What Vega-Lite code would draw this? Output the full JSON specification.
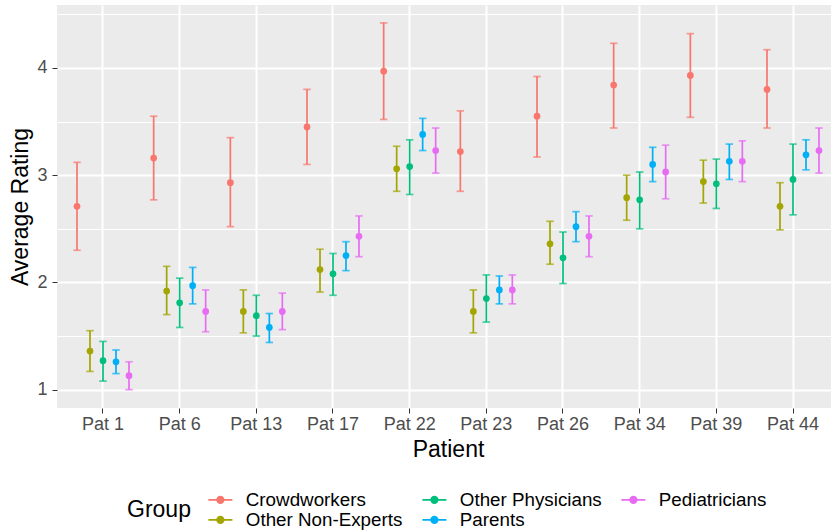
{
  "$schema": "https://vega.github.io/schema/vega-lite/v6.json",
  "autosize": {"type": "none"},
  "padding": {"left": 57, "top": 5, "right": 0, "bottom": 123},
  "width": 774,
  "height": 403,
  "background": "white",
  "config": {
    "font": "Liberation Sans",
    "view": {"fill": "#EBEBEB", "stroke": null}
  },
  "data": {
    "values": [
      {"patient": "Pat 1", "group": "Crowdworkers", "mean": 2.71, "lo": 2.30, "hi": 3.12},
      {"patient": "Pat 1", "group": "Other Non-Experts", "mean": 1.36, "lo": 1.17, "hi": 1.55},
      {"patient": "Pat 1", "group": "Other Physicians", "mean": 1.27, "lo": 1.08, "hi": 1.45},
      {"patient": "Pat 1", "group": "Parents", "mean": 1.26, "lo": 1.15, "hi": 1.37},
      {"patient": "Pat 1", "group": "Pediatricians", "mean": 1.13, "lo": 1.00, "hi": 1.26},
      {"patient": "Pat 6", "group": "Crowdworkers", "mean": 3.16, "lo": 2.77, "hi": 3.55},
      {"patient": "Pat 6", "group": "Other Non-Experts", "mean": 1.92, "lo": 1.70, "hi": 2.15},
      {"patient": "Pat 6", "group": "Other Physicians", "mean": 1.81, "lo": 1.58, "hi": 2.04},
      {"patient": "Pat 6", "group": "Parents", "mean": 1.97, "lo": 1.80, "hi": 2.14},
      {"patient": "Pat 6", "group": "Pediatricians", "mean": 1.73, "lo": 1.54, "hi": 1.93},
      {"patient": "Pat 13", "group": "Crowdworkers", "mean": 2.93, "lo": 2.52, "hi": 3.35},
      {"patient": "Pat 13", "group": "Other Non-Experts", "mean": 1.73, "lo": 1.53, "hi": 1.93},
      {"patient": "Pat 13", "group": "Other Physicians", "mean": 1.69, "lo": 1.50, "hi": 1.88},
      {"patient": "Pat 13", "group": "Parents", "mean": 1.58, "lo": 1.44, "hi": 1.71},
      {"patient": "Pat 13", "group": "Pediatricians", "mean": 1.73, "lo": 1.56, "hi": 1.90},
      {"patient": "Pat 17", "group": "Crowdworkers", "mean": 3.45, "lo": 3.10, "hi": 3.80},
      {"patient": "Pat 17", "group": "Other Non-Experts", "mean": 2.12, "lo": 1.91, "hi": 2.31},
      {"patient": "Pat 17", "group": "Other Physicians", "mean": 2.08, "lo": 1.88, "hi": 2.27},
      {"patient": "Pat 17", "group": "Parents", "mean": 2.25, "lo": 2.11, "hi": 2.38},
      {"patient": "Pat 17", "group": "Pediatricians", "mean": 2.43, "lo": 2.24, "hi": 2.62},
      {"patient": "Pat 22", "group": "Crowdworkers", "mean": 3.97, "lo": 3.52, "hi": 4.42},
      {"patient": "Pat 22", "group": "Other Non-Experts", "mean": 3.06, "lo": 2.85, "hi": 3.27},
      {"patient": "Pat 22", "group": "Other Physicians", "mean": 3.08, "lo": 2.82, "hi": 3.33},
      {"patient": "Pat 22", "group": "Parents", "mean": 3.38, "lo": 3.23, "hi": 3.53},
      {"patient": "Pat 22", "group": "Pediatricians", "mean": 3.23, "lo": 3.02, "hi": 3.44},
      {"patient": "Pat 23", "group": "Crowdworkers", "mean": 3.22, "lo": 2.85, "hi": 3.60},
      {"patient": "Pat 23", "group": "Other Non-Experts", "mean": 1.73, "lo": 1.53, "hi": 1.93},
      {"patient": "Pat 23", "group": "Other Physicians", "mean": 1.85, "lo": 1.63, "hi": 2.07},
      {"patient": "Pat 23", "group": "Parents", "mean": 1.93, "lo": 1.80, "hi": 2.06},
      {"patient": "Pat 23", "group": "Pediatricians", "mean": 1.93, "lo": 1.80, "hi": 2.07},
      {"patient": "Pat 26", "group": "Crowdworkers", "mean": 3.55, "lo": 3.17, "hi": 3.92},
      {"patient": "Pat 26", "group": "Other Non-Experts", "mean": 2.36, "lo": 2.17, "hi": 2.57},
      {"patient": "Pat 26", "group": "Other Physicians", "mean": 2.23, "lo": 1.99, "hi": 2.47},
      {"patient": "Pat 26", "group": "Parents", "mean": 2.52, "lo": 2.38, "hi": 2.66},
      {"patient": "Pat 26", "group": "Pediatricians", "mean": 2.43, "lo": 2.24, "hi": 2.62},
      {"patient": "Pat 34", "group": "Crowdworkers", "mean": 3.84, "lo": 3.44, "hi": 4.23},
      {"patient": "Pat 34", "group": "Other Non-Experts", "mean": 2.79, "lo": 2.58, "hi": 3.00},
      {"patient": "Pat 34", "group": "Other Physicians", "mean": 2.77, "lo": 2.50, "hi": 3.03},
      {"patient": "Pat 34", "group": "Parents", "mean": 3.10, "lo": 2.94, "hi": 3.26},
      {"patient": "Pat 34", "group": "Pediatricians", "mean": 3.03, "lo": 2.78, "hi": 3.28},
      {"patient": "Pat 39", "group": "Crowdworkers", "mean": 3.93, "lo": 3.54, "hi": 4.32},
      {"patient": "Pat 39", "group": "Other Non-Experts", "mean": 2.94, "lo": 2.74, "hi": 3.14},
      {"patient": "Pat 39", "group": "Other Physicians", "mean": 2.92, "lo": 2.69, "hi": 3.15},
      {"patient": "Pat 39", "group": "Parents", "mean": 3.13, "lo": 2.96, "hi": 3.29},
      {"patient": "Pat 39", "group": "Pediatricians", "mean": 3.13, "lo": 2.94, "hi": 3.32},
      {"patient": "Pat 44", "group": "Crowdworkers", "mean": 3.80, "lo": 3.44, "hi": 4.17},
      {"patient": "Pat 44", "group": "Other Non-Experts", "mean": 2.71, "lo": 2.49, "hi": 2.93},
      {"patient": "Pat 44", "group": "Other Physicians", "mean": 2.96, "lo": 2.63, "hi": 3.29},
      {"patient": "Pat 44", "group": "Parents", "mean": 3.19, "lo": 3.05, "hi": 3.33},
      {"patient": "Pat 44", "group": "Pediatricians", "mean": 3.23, "lo": 3.02, "hi": 3.44}
    ]
  },
  "encoding": {
    "x": {
      "field": "patient", "type": "nominal",
      "sort": ["Pat 1", "Pat 6", "Pat 13", "Pat 17", "Pat 22", "Pat 23", "Pat 26", "Pat 34", "Pat 39", "Pat 44"],
      "scale": {"paddingInner": 0, "paddingOuter": 0.1, "range": [0, 782]},
      "axis": {
        "title": "Patient", "bandPosition": 0.5, "labelAngle": 0,
        "domain": false, "grid": true, "gridColor": "white", "gridWidth": 2,
        "tickColor": "#333333", "tickSize": 5, "tickWidth": 1,
        "labelFontSize": 18, "labelColor": "#4D4D4D", "labelPadding": 2,
        "titleFontSize": 23, "titleFontWeight": "normal", "titleColor": "black", "titlePadding": 5
      }
    },
    "xOffset": {
      "field": "group", "type": "nominal",
      "sort": ["Crowdworkers", "Other Non-Experts", "Other Physicians", "Parents", "Pediatricians"],
      "scale": {"paddingInner": 0, "paddingOuter": 0.45}
    },
    "color": {
      "field": "group", "type": "nominal",
      "scale": {
        "domain": ["Crowdworkers", "Other Non-Experts", "Other Physicians", "Parents", "Pediatricians"],
        "range": ["#F8766D", "#A3A500", "#00BF7D", "#00B0F6", "#E76BF3"]
      },
      "legend": {
        "title": "Group", "orient": "none", "legendX": 70, "legendY": 485,
        "direction": "vertical", "columns": 3,
        "titleOrient": "left", "titleFontSize": 23, "titleFontWeight": "normal", "titleColor": "black",
        "titlePadding": 20, "titleAnchor": "middle", "titleBaseline": "middle",
        "labelFontSize": 18.8, "labelColor": "black", "labelOffset": 16,
        "symbolType": "M-1.5,0H1.5M-0.41,0A0.41,0.41,0,1,1,0.41,0A0.41,0.41,0,1,1,-0.41,0Z",
        "symbolSize": 256, "symbolStrokeWidth": 1.7, "symbolOpacity": 1,
        "columnPadding": 16, "rowPadding": 0.5,
        "encode": {"symbols": {"update": {"fill": {"scale": "color", "field": "value"}, "stroke": {"scale": "color", "field": "value"}}}}
      }
    }
  },
  "layer": [
    {
      "mark": {"type": "rule", "strokeWidth": 1.7},
      "encoding": {
        "y": {
          "field": "lo", "type": "quantitative",
          "scale": {"domain": [0.829, 4.587], "nice": false, "zero": false},
          "axis": {
            "title": "Average Rating",
            "values": [1, 1.5, 2, 2.5, 3, 3.5, 4, 4.5],
            "labelExpr": "datum.value % 1 === 0 ? format(datum.value, 'd') : ''",
            "domain": false, "grid": true, "gridColor": "white",
            "gridWidth": {"condition": {"test": "datum.value % 1 === 0", "value": 2}, "value": 1},
            "tickColor": "#333333", "tickSize": 5,
            "tickWidth": {"condition": {"test": "datum.value % 1 === 0", "value": 1}, "value": 0},
            "labelFontSize": 18, "labelColor": "#4D4D4D", "labelPadding": 5,
            "titleFontSize": 23, "titleFontWeight": "normal", "titleColor": "black", "titlePadding": 4
          }
        },
        "y2": {"field": "hi"}
      }
    },
    {
      "mark": {"type": "tick", "orient": "horizontal", "size": 7.5, "thickness": 1.7},
      "encoding": {"y": {"field": "lo", "type": "quantitative"}}
    },
    {
      "mark": {"type": "tick", "orient": "horizontal", "size": 7.5, "thickness": 1.7},
      "encoding": {"y": {"field": "hi", "type": "quantitative"}}
    },
    {
      "mark": {"type": "point", "filled": true, "size": 45, "opacity": 1},
      "encoding": {"y": {"field": "mean", "type": "quantitative"}}
    }
  ]
}
